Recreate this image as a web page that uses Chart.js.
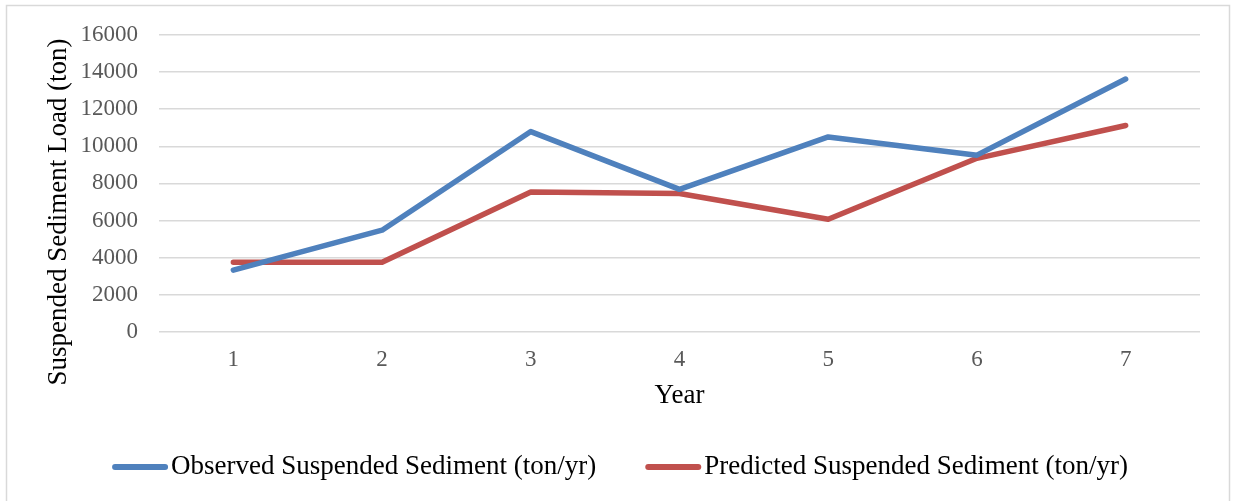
<!DOCTYPE html>
<html>
<head>
<meta charset="utf-8">
<script src="https://cdn.jsdelivr.net/npm/chart.js@4/dist/chart.umd.min.js"></script>
<style>
  html, body { margin: 0; padding: 0; background: #ffffff; }
  #wrap { position: relative; width: 1235px; height: 501px; }
  canvas { display: block; }
</style>
</head>
<body>
<div id="wrap"><canvas id="chart" width="1235" height="501"></canvas></div>
<script>
// Years on the x axis
const years = ['1', '2', '3', '4', '5', '6', '7'];
// Suspended sediment load per year (ton/yr)
const observed = [3330, 5480, 10790, 7680, 10500, 9520, 13620];
const predicted = [3760, 3760, 7540, 7460, 6070, 9350, 11120];
// Series names and axis title
const seriesNames = ['Observed Suspended Sediment (ton/yr)', 'Predicted Suspended Sediment (ton/yr)'];
const seriesColors = ['#4F81BD', '#C0504D'];
const yTitle = 'Suspended Sediment Load (ton)';

const SERIF = "'Liberation Serif', 'Times New Roman', serif";

// Outer frame, vertical axis title and a horizontal legend with line samples
const framePlugin = {
  id: 'frameAndLegend',
  afterDraw(chart) {
    const ctx = chart.ctx;
    ctx.save();
    ctx.strokeStyle = '#d9d9d9';
    ctx.lineWidth = 1.5;
    ctx.strokeRect(6.5, 5.5, 1223, 510);

    ctx.font = '27px ' + SERIF;
    ctx.fillStyle = '#000000';

    // vertical axis title
    ctx.save();
    ctx.translate(59, 212);
    ctx.rotate(-Math.PI / 2);
    ctx.textAlign = 'center';
    ctx.textBaseline = 'middle';
    ctx.fillText(yTitle, 0, 0);
    ctx.restore();

    // legend
    ctx.textBaseline = 'middle';
    const sample = 56, gap = 3, between = 49;
    const items = chart.data.datasets.map(ds => ({
      label: ds.label, color: ds.borderColor, w: ctx.measureText(ds.label).width
    }));
    const total = items.reduce((s, it) => s + sample + gap + it.w, 0) + between * (items.length - 1);
    let x = 620 - total / 2;
    const y = 467;
    items.forEach(it => {
      ctx.strokeStyle = it.color;
      ctx.lineWidth = 6;
      ctx.lineCap = 'round';
      ctx.beginPath();
      ctx.moveTo(x + 3, y);
      ctx.lineTo(x + sample - 3, y);
      ctx.stroke();
      ctx.fillStyle = '#000000';
      ctx.textAlign = 'left';
      ctx.fillText(it.label, x + sample + gap, y);
      x += sample + gap + it.w + between;
    });
    ctx.restore();
  }
};

new Chart(document.getElementById('chart'), {
  type: 'line',
  data: {
    labels: years,
    datasets: [
      {
        label: seriesNames[0],
        data: observed,
        borderColor: seriesColors[0],
        backgroundColor: seriesColors[0],
        borderWidth: 5.5,
        borderCapStyle: 'round',
        borderJoinStyle: 'round',
        pointRadius: 0,
        tension: 0,
        fill: false
      },
      {
        label: seriesNames[1],
        data: predicted,
        borderColor: seriesColors[1],
        backgroundColor: seriesColors[1],
        borderWidth: 5.5,
        borderCapStyle: 'round',
        borderJoinStyle: 'round',
        pointRadius: 0,
        tension: 0,
        fill: false
      }
    ]
  },
  options: {
    responsive: false,
    devicePixelRatio: 1,
    animation: false,
    layout: { padding: { left: 0, right: 35, top: 34, bottom: 89 } },
    plugins: {
      legend: { display: false },
      tooltip: { enabled: false }
    },
    scales: {
      x: {
        type: 'category',
        offset: true,
        grid: { display: false, drawTicks: false },
        border: { display: false },
        ticks: {
          color: '#595959',
          padding: 14,
          font: { family: SERIF, size: 23 }
        },
        title: {
          display: true,
          text: 'Year',
          color: '#000000',
          padding: 0,
          font: { family: SERIF, size: 27 }
        },
        afterFit(scale) { scale.height = 80; }
      },
      y: {
        min: 0,
        max: 16000,
        grid: { color: '#d9d9d9', lineWidth: 1.5, drawTicks: false },
        border: { display: false },
        ticks: {
          stepSize: 2000,
          color: '#595959',
          padding: 21,
          font: { family: SERIF, size: 23 },
          callback: (v) => String(v)
        },
        afterFit(scale) { scale.width = 159; }
      }
    }
  },
  plugins: [framePlugin]
});
</script>
</body>
</html>
